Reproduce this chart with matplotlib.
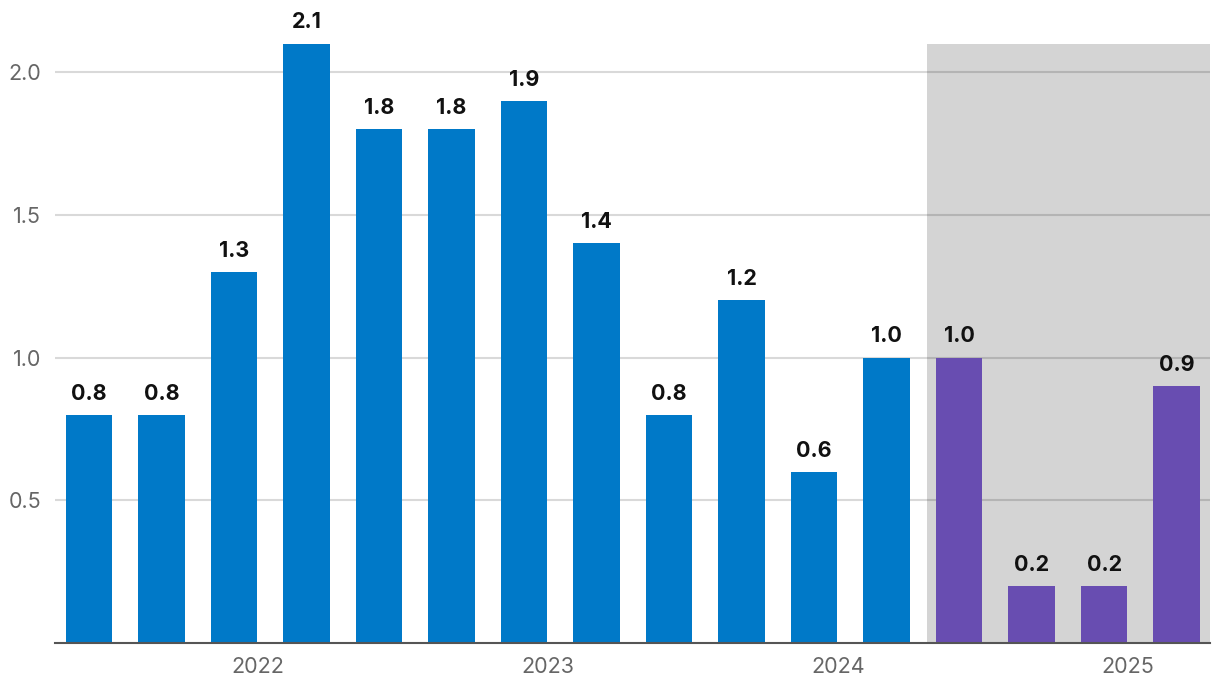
import matplotlib
matplotlib.use("Agg")
import matplotlib.pyplot as plt

values = [0.8, 0.8, 1.3, 2.1, 1.8, 1.8, 1.9, 1.4, 0.8, 1.2, 0.6, 1.0, 1.0, 0.2, 0.2, 0.9]
labels = ["0.8", "0.8", "1.3", "2.1", "1.8", "1.8", "1.9", "1.4", "0.8", "1.2", "0.6", "1.0", "1.0", "0.2", "0.2", "0.9"]
n_actual = 12
year_labels = ["2022", "2023", "2024", "2025"]
year_positions = [2.33, 6.33, 10.33, 14.33]
yticks = [0.5, 1.0, 1.5, 2.0]
ytick_labels = ["0.5", "1.0", "1.5", "2.0"]
shade_start = 11.55
shade_top = 2.1

blue = "#0079C8"
purple = "#684DB1"

plt.rcParams['font.family'] = ['Inter', 'DejaVu Sans']

fig = plt.figure(figsize=(12.2, 6.96), dpi=100)
ax = fig.add_axes([55/1220, 53/696, (1210-55)/1220, (643-15)/696])

x = list(range(len(values)))
colors = [blue if i < n_actual else purple for i in x]

ax.set_xlim(-0.47, 15.46)
ax.set_ylim(0, 2.2)

ax.axvspan(shade_start, 15.46, ymin=0, ymax=shade_top/2.2, color="#D4D4D4", zorder=0, lw=0)
for yt in yticks:
    ax.axhline(yt, color="black", alpha=0.15, lw=1.5, zorder=1)

ax.bar(x, values, width=0.64, color=colors, zorder=2)
for xi, v, lab in zip(x, values, labels):
    ax.annotate(lab, (xi, v), xytext=(0, 8), textcoords="offset points",
                ha="center", va="bottom", fontsize=15.5, fontweight="bold",
                color="#111111", clip_on=False)

ax.set_yticks(yticks)
ax.set_yticklabels(ytick_labels)
ax.set_xticks(year_positions)
ax.set_xticklabels(year_labels)
ax.tick_params(axis="both", length=0, labelsize=15.5, labelcolor="#666666")
ax.tick_params(axis="y", pad=10)
ax.tick_params(axis="x", pad=10)

for s in ["top", "right", "left"]:
    ax.spines[s].set_visible(False)
ax.spines["bottom"].set_color("#555555")
ax.spines["bottom"].set_linewidth(1.5)
ax.spines["bottom"].set_zorder(3)

fig.savefig("out.png", dpi=100)
